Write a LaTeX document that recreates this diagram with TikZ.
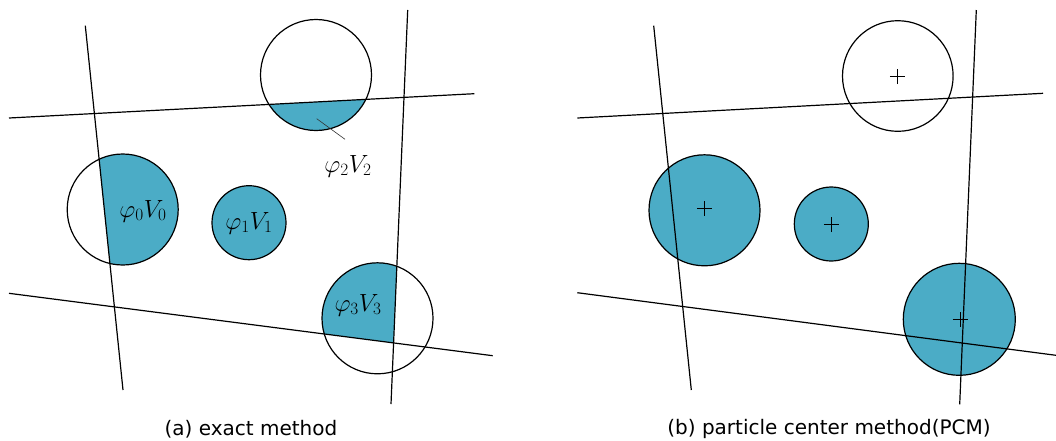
\documentclass[tikz,border=0pt]{standalone}
\usepackage{fontspec}
\newfontfamily\capfont{DejaVu Sans}
\definecolor{pfill}{RGB}{75,172,198}
\tikzset{
  bline/.style={line width=1.2pt, draw=black},
  circ/.style={line width=1.2pt, draw=black},
  pfilled/.style={fill=pfill},
  leader/.style={line width=0.6pt, draw=black!80},
  mlabel/.style={inner sep=0pt, font=\fontsize{23}{26}\selectfont},
  caption/.style={inner sep=0pt, font=\capfont\fontsize{20}{24}\selectfont},
  pluslen/.style={line width=0.9pt, draw=black}
}
\newcommand{\plusmark}[1]{\draw[pluslen] ([xshift=-7.5pt]#1) -- ([xshift=7.5pt]#1); \draw[pluslen] ([yshift=-7.5pt]#1) -- ([yshift=7.5pt]#1);}
\begin{document}
\begin{tikzpicture}[x=1pt,y=-1pt]
\useasboundingbox (0,0) rectangle (1056,440);
% ---------- left panel ----------
\coordinate (LAt) at (85.3,25.7);  \coordinate (LAb) at (123,390);
\coordinate (LBt) at (407.7,10);   \coordinate (LBb) at (391,404);
\coordinate (LCl) at (9,118);      \coordinate (LCr) at (474.3,93.7);
\coordinate (LDl) at (9,293.3);    \coordinate (LDr) at (492.7,355.7);
\coordinate (c0) at (122.7,209.5);
\coordinate (c1) at (249,222.7);
\coordinate (c2) at (316,75);
\coordinate (c3) at (377.5,318.3);
% fills
\begin{scope}
  \clip (LCl) -- (LCr) -- (474.3,300) -- (9,300) -- cycle;
  \fill[pfilled] (c2) circle (55.5);
\end{scope}
\begin{scope}
  \clip (LAt) -- (LAb) -- (300,390) -- (300,25.7) -- cycle;
  \fill[pfilled] (c0) circle (55.5);
\end{scope}
\fill[pfilled] (c1) circle (37);
\begin{scope}
  \clip (LBt) -- (LBb) -- (0,404) -- (0,10) -- cycle;
  \clip (LDl) -- (LDr) -- (492.7,0) -- (9,0) -- cycle;
  \fill[pfilled] (c3) circle (55.5);
\end{scope}
% outlines
\draw[circ] (c0) circle (55.5);
\draw[circ] (c1) circle (37);
\draw[circ] (c2) circle (55.5);
\draw[circ] (c3) circle (55.5);
\draw[bline] (LAt) -- (LAb);
\draw[bline] (LBt) -- (LBb);
\draw[bline] (LCl) -- (LCr);
\draw[bline] (LDl) -- (LDr);
% labels
\node[mlabel] (l0) at (143,211) {$\varphi_0V_0$};
\node[mlabel] (l1) at (249,223) {$\varphi_1V_1$};
\node[mlabel] (l2) at (348,166) {$\varphi_2V_2$};
\node[mlabel] (l3) at (358,305) {$\varphi_3V_3$};
\coordinate (ld1) at (316.7,118.7);
\coordinate (ld2) at (345,139.3);
\draw[leader] (ld1) -- (ld2);
\node[caption] (capa) at (251,429) {(a) exact method};
% ---------- right panel ----------
\coordinate (RAt) at (653.7,25.7); \coordinate (RAb) at (691.3,390);
\coordinate (RBt) at (976.3,10);   \coordinate (RBb) at (959.7,404.3);
\coordinate (RCl) at (577.3,118);  \coordinate (RCr) at (1043,93.3);
\coordinate (RDl) at (577.3,292.7);\coordinate (RDr) at (1056,355.3);
\coordinate (d0) at (704.5,210.3);
\coordinate (d1) at (831.3,224);
\coordinate (d2) at (897.8,76);
\coordinate (d3) at (959.3,319.3);
\fill[pfilled] (d0) circle (55.5);
\fill[pfilled] (d1) circle (37);
\fill[pfilled] (d3) circle (56);
\draw[circ] (d0) circle (55.5);
\draw[circ] (d1) circle (37);
\draw[circ] (d2) circle (55.3);
\draw[circ] (d3) circle (56);
\draw[bline] (RAt) -- (RAb);
\draw[bline] (RBt) -- (RBb);
\draw[bline] (RCl) -- (RCr);
\draw[bline] (RDl) -- (RDr);
\coordinate (p0) at (704.7,208);
\coordinate (p1) at (831.3,224.7);
\coordinate (p2) at (897.3,76.7);
\coordinate (p3) at (960,319.3);
\plusmark{p0}
\plusmark{p1}
\plusmark{p2}
\plusmark{p3}
\node[caption] (capb) at (829,429) {(b) particle center method(PCM)};
\end{tikzpicture}
\end{document}
